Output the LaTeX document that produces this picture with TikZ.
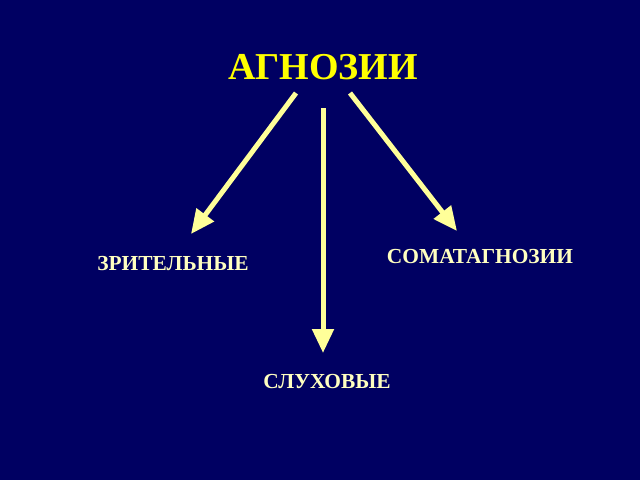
\documentclass[tikz,border=0pt]{standalone}
\usepackage{fontspec}
\setmainfont{Liberation Serif}
\usetikzlibrary{arrows.meta}
\definecolor{navy}{HTML}{000062}
\definecolor{titleyellow}{HTML}{FFFF00}
\definecolor{labelyellow}{HTML}{FFFFC0}
\definecolor{arrowyellow}{HTML}{FFFF99}
\tikzset{
  label/.style={text=labelyellow, font=\fontsize{21.4}{25}\selectfont\bfseries},
  arr/.style={draw=arrowyellow, line width=5pt, -{Triangle[length=24pt,width=21pt]}}
}

\begin{document}
\begin{tikzpicture}[x=1pt,y=-1pt]
	%%%%% START %%%%%
	
	\fill[navy] (0,0) rectangle (640,480);
	\useasboundingbox (0,0) rectangle (640,480);
	
	\node[text=titleyellow, font=\fontsize{38}{44}\selectfont\bfseries] (agn) at (323, 67) {АГНОЗИИ};
	
	\node[label] (vis) at (173, 264) {ЗРИТЕЛЬНЫЕ};
	\node[label] (aud) at (327, 382) {СЛУХОВЫЕ};
	\node[label] (som) at (480, 257) {СОМАТАГНОЗИИ};
	
	\coordinate (visA) at (296, 93);
	\coordinate (visB) at (191, 234);
	\coordinate (audA) at (323, 108);
	\coordinate (audB) at (323, 353);
	\coordinate (somA) at (350, 93);
	\coordinate (somB) at (457, 231);
	
	\draw[arr] (visA) -- (visB);
	\draw[arr] (audA) -- (audB);
	\draw[arr] (somA) -- (somB);
	
	%%%%% END %%%%%
\end{tikzpicture}
\end{document}
